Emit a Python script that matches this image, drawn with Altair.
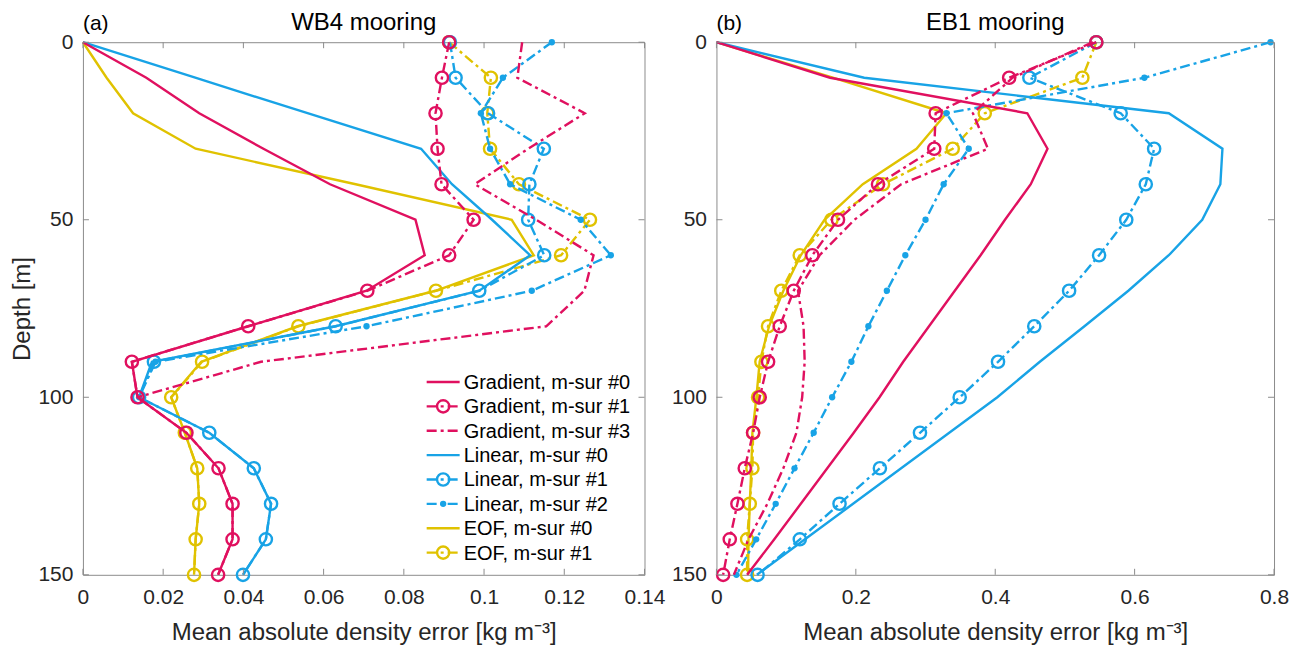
import altair as alt
import pandas as pd

# ---- depth levels (m) --------------------------------------------------
depth = [0, 10, 20, 30, 40, 50, 60, 70, 80, 90, 100, 110, 120, 130, 140, 150]

# ---- WB4 mooring: mean absolute density error (kg m^-3) -----------------
wb4_grad0 = [0, 0.0158, 0.029, 0.045, 0.0616, 0.0829, 0.0852, 0.0707, 0.0412, 0.0122, 0.0136,
             0.0258, 0.0338, 0.0373, 0.0373, 0.0337]
wb4_grad1 = [0.0913, 0.0895, 0.0879, 0.0884, 0.0894, 0.0974, 0.0913, 0.0709, 0.0412, 0.0122, 0.0136,
             0.0258, 0.0338, 0.0373, 0.0373, 0.0337]
wb4_grad3 = [0.1095, 0.1083, 0.1251, 0.111, 0.0977, 0.113, 0.1273, 0.125, 0.1155, 0.0444, 0.0136]
wb4_lin0 = [0, 0.028, 0.056, 0.0843, 0.092, 0.102, 0.1115, 0.0988, 0.063, 0.0172, 0.014,
            0.0315, 0.0426, 0.0469, 0.0456, 0.0399]
wb4_lin1 = [0.0915, 0.0929, 0.101, 0.1149, 0.1113, 0.111, 0.115, 0.0988, 0.063, 0.0177, 0.014,
            0.0315, 0.0426, 0.0469, 0.0456, 0.0399]
wb4_lin2 = [0.1169, 0.1047, 0.0992, 0.1015, 0.1065, 0.1241, 0.1316, 0.1119, 0.0707, 0.0181, 0.014]
wb4_eof0 = [0, 0.0059, 0.0125, 0.0281, 0.068, 0.1069, 0.1124, 0.0879, 0.0535, 0.0295, 0.022,
            0.0254, 0.0285, 0.029, 0.0281, 0.0277]
wb4_eof1 = [0.0913, 0.1017, 0.1008, 0.1015, 0.1087, 0.1264, 0.1192, 0.088, 0.0537, 0.0297, 0.022,
            0.0254, 0.0285, 0.029, 0.0281, 0.0277]

# ---- EB1 mooring --------------------------------------------------------
eb1_grad0 = [0, 0.163, 0.446, 0.475, 0.451, 0.414, 0.379, 0.342, 0.305, 0.268, 0.234,
             0.197, 0.159, 0.121, 0.083, 0.044]
eb1_grad1 = [0.545, 0.420, 0.3145, 0.3125, 0.2318, 0.1744, 0.1376, 0.1109, 0.0908, 0.0741, 0.0621,
             0.0526, 0.0406, 0.0301, 0.0191, 0.0096]
eb1_grad3 = [0.54, 0.425, 0.368, 0.3895, 0.265, 0.198, 0.148, 0.117, 0.125, 0.1266, 0.123,
             0.1147, 0.096, 0.073, 0.046, 0.025]
eb1_lin0 = [0, 0.212, 0.649, 0.726, 0.723, 0.697, 0.649, 0.591, 0.528, 0.464, 0.403,
            0.334, 0.265, 0.196, 0.127, 0.058]
eb1_lin1 = [0.545, 0.449, 0.580, 0.628, 0.616, 0.588, 0.549, 0.506, 0.456, 0.404, 0.349,
            0.292, 0.2345, 0.1766, 0.1196, 0.059]
eb1_lin2 = [0.795, 0.614, 0.330, 0.362, 0.326, 0.300, 0.271, 0.2445, 0.218, 0.1936, 0.166,
            0.1395, 0.112, 0.085, 0.057, 0.0287]
eb1_eof0 = [0, 0.167, 0.33, 0.287, 0.21, 0.155, 0.121, 0.096, 0.0755, 0.062, 0.0573,
            0.0516, 0.050, 0.0478, 0.046, 0.0454]
eb1_eof1 = [0.545, 0.525, 0.385, 0.339, 0.239, 0.165, 0.1195, 0.093, 0.074, 0.0645, 0.0597,
            0.0526, 0.0516, 0.0478, 0.044, 0.044]

wb4_ticks = [0, 0.02, 0.04, 0.06, 0.08, 0.1, 0.12, 0.14]
eb1_ticks = [0, 0.2, 0.4, 0.6, 0.8]
depth_ticks = [0, 50, 100, 150]

# ---- styling ------------------------------------------------------------
FONT = "Liberation Sans"
INK = "#262626"
FRAME = "#8c8c8c"
RED = "#E0105F"
BLUE = "#18A3E6"
YELLOW = "#E0C200"
DASHDOT = [10, 4, 3, 4]
LW = 2.4
H = 533
TICK = 6

# label, colour, dash, marker  (legend order)
styles = {
    "grad0": ("Gradient, m-sur #0", RED, None, None),
    "grad1": ("Gradient, m-sur #1", RED, DASHDOT, "ring"),
    "grad3": ("Gradient, m-sur #3", RED, DASHDOT, None),
    "lin0": ("Linear, m-sur #0", BLUE, None, None),
    "lin1": ("Linear, m-sur #1", BLUE, DASHDOT, "ring"),
    "lin2": ("Linear, m-sur #2", BLUE, DASHDOT, "dot"),
    "eof0": ("EOF, m-sur #0", YELLOW, None, None),
    "eof1": ("EOF, m-sur #1", YELLOW, DASHDOT, "ring"),
}
legend_order = ["grad0", "grad1", "grad3", "lin0", "lin1", "lin2", "eof0", "eof1"]
draw_order = ["eof0", "eof1", "lin0", "lin1", "lin2", "grad0", "grad1", "grad3"]


def line_kwargs(dash):
    kw = dict(strokeWidth=LW)
    if dash:
        kw["strokeDash"] = dash
    return kw


def marker_mark(chart, kind, color):
    if kind == "ring":
        return chart.mark_point(shape="circle", filled=False, size=150, strokeWidth=LW,
                                color=color, opacity=1)
    return chart.mark_point(shape="circle", filled=True, size=40, color=color, opacity=1)


def panel(series, xdomain, xticks, width, tag, title, ytitle, legend):
    X = alt.X("err:Q", scale=alt.Scale(domain=xdomain, nice=False, zero=False),
              axis=alt.Axis(values=xticks, format="~g", grid=False, ticks=False, domain=False,
                            labelFlush=False, labelOverlap=False, labelFontSize=21,
                            labelFont=FONT, labelColor=INK, labelPadding=12,
                            title="Mean absolute density error [kg m⁻³]", titleFont=FONT,
                            titleFontSize=24, titleFontWeight="normal", titleColor=INK,
                            titlePadding=13))
    yaxis = dict(values=depth_ticks, grid=False, ticks=False, domain=False,
                 labelFontSize=21, labelFont=FONT, labelColor=INK, labelPadding=10,
                 labelFlush=False, labelOverlap=False)
    if ytitle:
        yaxis.update(title=ytitle, titleFont=FONT, titleFontSize=24, titleFontWeight="normal",
                     titleColor=INK, titlePadding=3)
    else:
        yaxis.update(title=None)
    Y = alt.Y("depth:Q", scale=alt.Scale(domain=[0, 150], reverse=True, nice=False, zero=False),
              axis=alt.Axis(**yaxis))

    layers = []
    for key in draw_order:
        vals = series[key]
        _, color, dash, marker = styles[key]
        df = pd.DataFrame({"depth": depth[:len(vals)], "err": vals})
        base = alt.Chart(df)
        layers.append(base.mark_line(color=color, **line_kwargs(dash))
                      .encode(x=X, y=Y, order="depth:Q"))
        if marker:
            layers.append(marker_mark(base, marker, color).encode(x=X, y=Y))

    # inward tick marks on all four sides of the box
    xt = alt.Chart(pd.DataFrame({"err": xticks}))
    yt = alt.Chart(pd.DataFrame({"depth": depth_ticks}))
    rule = dict(color=FRAME, strokeWidth=1)
    layers += [
        xt.mark_rule(**rule).encode(x=X, y=alt.value(H), y2=alt.value(H - TICK)),
        xt.mark_rule(**rule).encode(x=X, y=alt.value(0), y2=alt.value(TICK)),
        yt.mark_rule(**rule).encode(y=Y, x=alt.value(0), x2=alt.value(TICK)),
        yt.mark_rule(**rule).encode(y=Y, x=alt.value(width - TICK), x2=alt.value(width)),
    ]

    # panel tag and panel title above the box
    heads = alt.Chart(pd.DataFrame({"t": [0]}))
    layers.append(heads.mark_text(align="left", baseline="alphabetic", font=FONT, fontSize=21,
                                  color="#000000").encode(
        x=alt.value(0), y=alt.value(-12), text=alt.value(tag)))
    layers.append(heads.mark_text(align="center", baseline="alphabetic", font=FONT, fontSize=24,
                                  color="#000000").encode(
        x=alt.value(width / 2), y=alt.value(-12), text=alt.value(title)))

    if legend:
        x0, x1 = 344, 377
        y0, dy = 340, 24.4
        dummy = alt.Chart(pd.DataFrame({"k": [0]}))
        for i, key in enumerate(legend_order):
            label, color, dash, marker = styles[key]
            y = y0 + i * dy
            layers.append(dummy.mark_rule(color=color, **line_kwargs(dash)).encode(
                x=alt.value(x0), x2=alt.value(x1), y=alt.value(y)))
            if marker:
                layers.append(marker_mark(dummy, marker, color).encode(
                    x=alt.value((x0 + x1) / 2), y=alt.value(y)))
            layers.append(dummy.mark_text(align="left", baseline="middle", font=FONT,
                                          fontSize=20, color="#000000").encode(
                x=alt.value(x1 + 4), y=alt.value(y + 1), text=alt.value(label)))

    return alt.layer(*layers).properties(width=width, height=H)


wb4 = dict(grad0=wb4_grad0, grad1=wb4_grad1, grad3=wb4_grad3, lin0=wb4_lin0, lin1=wb4_lin1,
           lin2=wb4_lin2, eof0=wb4_eof0, eof1=wb4_eof1)
eb1 = dict(grad0=eb1_grad0, grad1=eb1_grad1, grad3=eb1_grad3, lin0=eb1_lin0, lin1=eb1_lin1,
           lin2=eb1_lin2, eof0=eb1_eof0, eof1=eb1_eof1)

left = panel(wb4, [0, 0.14], wb4_ticks, 562, "(a)", "WB4 mooring", "Depth [m]", True)
right = panel(eb1, [0, 0.8], eb1_ticks, 558, "(b)", "EB1 mooring", None, False)

chart = (
    alt.hconcat(left, right, spacing=72, bounds="flush")
    .properties(padding={"left": 10, "top": 10, "right": 5, "bottom": 5}, background="white")
    .configure_view(stroke=FRAME, strokeWidth=1)
)

chart.save("out.html", embed_options={"renderer": "svg", "actions": False})
